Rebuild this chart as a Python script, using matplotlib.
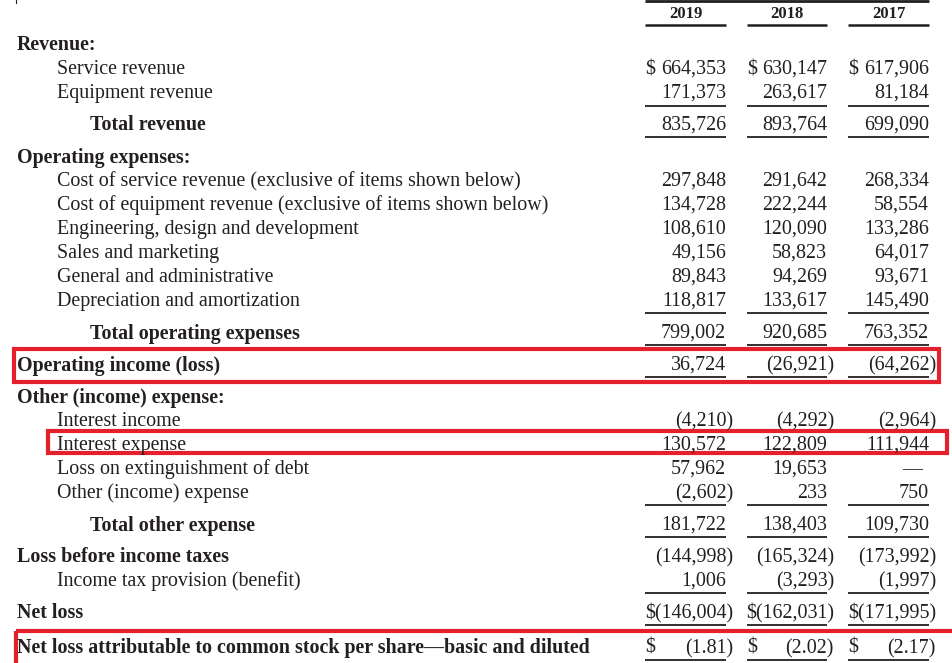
import matplotlib
matplotlib.use("Agg")
import matplotlib.pyplot as plt
from matplotlib.patches import Rectangle

plt.rcParams['font.family'] = ['Liberation Serif', 'DejaVu Serif']

years = ["2019", "2018", "2017"]

labels = [
    "Revenue:", "Service revenue", "Equipment revenue", "Total revenue",
    "Operating expenses:",
    "Cost of service revenue (exclusive of items shown below)",
    "Cost of equipment revenue (exclusive of items shown below)",
    "Engineering, design and development", "Sales and marketing",
    "General and administrative", "Depreciation and amortization",
    "Total operating expenses", "Operating income (loss)",
    "Other (income) expense:", "Interest income", "Interest expense",
    "Loss on extinguishment of debt", "Other (income) expense",
    "Total other expense", "Loss before income taxes",
    "Income tax provision (benefit)", "Net loss",
    "Net loss attributable to common stock per share\u2014basic and diluted",
]
# label style: 'h' bold header at left, 'i' indented item, 't' bold total (more indent)
styles = ["h", "i", "i", "t", "h", "i", "i", "i", "i", "i", "i", "t", "h",
          "h", "i", "i", "i", "i", "t", "h", "i", "h", "h"]

v2019 = [None, 664353, 171373, 835726, None, 297848, 134728, 108610, 49156,
         89843, 118817, 799002, 36724, None, -4210, 130572, 57962, -2602,
         181722, -144998, 1006, -146004, -1.81]
v2018 = [None, 630147, 263617, 893764, None, 291642, 222244, 120090, 58823,
         94269, 133617, 920685, -26921, None, -4292, 122809, 19653, 233,
         138403, -165324, -3293, -162031, -2.02]
v2017 = [None, 617906, 81184, 699090, None, 268334, 58554, 133286, 64017,
         93671, 145490, 763352, -64262, None, -2964, 111944, "dash", 750,
         109730, -173992, -1997, -171995, -2.17]

# ---------------- layout (pixels) ----------------
W, H = 952, 663
row_y = [44, 68, 92, 124, 156, 180, 204, 228, 252, 276, 300, 332, 364, 396,
         420, 444, 468, 492, 524, 556, 580, 612, 647]
TY = 1.5  # text vertical nudge
label_x = {"h": 17, "i": 57, "t": 90}
col_left = [645, 747, 848]
col_right = [726, 827, 929]
paren_w = 7
dollar_rows = {1: "space", 21: "attached", 22: "sep"}
underline_after = [92, 124, 300, 332, 364, 492, 524, 580, 612, 647]
line_offset = {92: 14, 124: 13, 300: 13, 332: 13, 364: 13, 492: 13,
               524: 13, 580: 13, 612: 13, 647: 13}

TXT = "#231f20"
RED = "#e3202b"
FS = 14.4

fig = plt.figure(figsize=(W / 100, H / 100), dpi=100)
ax = fig.add_axes([0, 0, 1, 1])
ax.set_xlim(0, W)
ax.set_ylim(H, 0)
ax.axis("off")


def fmt(v, decimals=False):
    if isinstance(v, str):
        return "\u2014", False
    neg = v < 0
    a = abs(v)
    s = f"{a:,.2f}" if decimals else f"{a:,.0f}"
    return (f"({s})" if neg else s), neg


# header
ax.plot([col_left[0], col_right[2]], [0.5, 0.5], color=TXT, lw=2.0,
        solid_capstyle="butt")
ax.plot([15.5, 15.5], [0, 3], color=TXT, lw=0.8)
for j, yr in enumerate(years):
    cx = (col_left[j] + col_right[j]) / 2
    ax.text(cx, 13 + TY, yr, ha="center", va="center", fontsize=12,
            fontweight="bold", color=TXT)
    ax.plot([col_left[j], col_right[j]], [25, 25], color=TXT, lw=1.8,
            solid_capstyle="butt")

# labels
for lab, st, y in zip(labels, styles, row_y):
    ax.text(label_x[st], y + TY, lab, ha="left", va="center", fontsize=FS,
            fontweight="bold" if st in ("h", "t") else "normal", color=TXT)

# values
cols = [v2019, v2018, v2017]
for j, vals in enumerate(cols):
    for i, v in enumerate(vals):
        if v is None:
            continue
        y = row_y[i] + TY
        s, neg = fmt(v, decimals=(i == 22))
        mode = dollar_rows.get(i)
        if mode == "attached":
            s = "$" + s
        right = col_right[j] + (paren_w if neg else 0)
        if isinstance(v, str):
            right = col_right[j] - 7
        ax.text(right, y, s, ha="right", va="center", fontsize=FS, color=TXT)
        if mode in ("space", "sep"):
            ax.text(col_left[j], y, "$", ha="left", va="center", fontsize=FS,
                    color=TXT)

# underlines
for yy in underline_after:
    ly = yy + line_offset[yy]
    for j in range(3):
        ax.plot([col_left[j], col_right[j]], [ly, ly], color=TXT, lw=1.3,
                solid_capstyle="butt")

# red highlight boxes
ax.add_patch(Rectangle((13.5, 348.5), 925, 33, fill=False, ec=RED, lw=3))
ax.add_patch(Rectangle((48, 430.5), 899, 22, fill=False, ec=RED, lw=3))
ax.add_patch(Rectangle((16, 631), 945, 40, fill=False, ec=RED, lw=3,
                       clip_on=True))

fig.savefig("out.png", dpi=100)
